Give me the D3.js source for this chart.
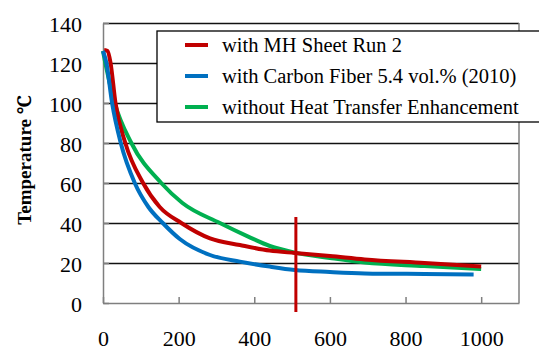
<!DOCTYPE html>
<html>
<head>
<meta charset="utf-8">
<script src="https://cdn.jsdelivr.net/npm/d3@7"></script>
</head>
<body style="margin:0">
<script>
//Data: [time, temperature]
var seriesNames = ["with MH Sheet Run 2", "with Carbon Fiber 5.4 vol.% (2010)", "without Heat Transfer Enhancement"];
var seriesColors = ["#c00000", "#0070c0", "#00b050"];

var redRun = [[3,126.5],[12,126],[20,120],[33,100],[59,80],[106,60],[150,48],[207,40],[283,32.3],[362,29],[441,26.2],[507,25],[600,23.5],[692,21.8],[850,20],[1000,18.2]];
var blueRun = [[0,126],[9,120],[24,100],[47,80],[84,60],[120,48],[158,40],[203,32],[283,24],[362,20.7],[441,18.2],[507,16.5],[600,15.5],[692,14.8],[850,14.5],[980,14.3]];
var greenRun = [[0,126],[6,120],[31,100],[75,80],[154,60],[210,50],[309,40],[384,33.2],[441,28.5],[507,25.2],[600,22.5],[692,20.2],[850,18.5],[1000,17]];
var allRuns = [redRun, blueRun, greenRun];

//Marker line at t = 510
var markerT = 510;
var markerRange = [-4.5, 43];

var xTicks = [0, 200, 400, 600, 800, 1000];
var yTicks = [0, 20, 40, 60, 80, 100, 120, 140];

var serif = "Tinos, 'Times New Roman', Times, 'Noto Serif', serif";

//SVG setup
var margin = { top: 23, right: 20, bottom: 47, left: 103 };
var width = 539 - margin.left - margin.right;
var height = 350 - margin.top - margin.bottom;

var root = d3.select("body")
	.append("svg")
	.attr("width", 539)
	.attr("height", 350)
	.style("font-family", serif);

var svg = root.append("g")
	.attr("transform", "translate(" + margin.left + "," + margin.top + ")");

//Scales
var x = d3.scaleLinear().domain([0, 1100]).range([0, width]);
var y = d3.scaleLinear().domain([0, 140]).range([height, 0]);

//Gridlines
var grid = svg.append("g")
	.call(d3.axisLeft(y).tickValues(yTicks.slice(1)).tickSize(-width).tickFormat(""));
grid.select(".domain").remove();
grid.selectAll("line").attr("stroke", "#111").attr("stroke-width", 1.3);

//Plot frame (right side)
svg.append("line")
	.attr("x1", width).attr("x2", width)
	.attr("y1", 0).attr("y2", height)
	.attr("stroke", "#7f7f7f")
	.attr("stroke-width", 1.5);

//Y axis
var yAxis = svg.append("g")
	.call(d3.axisLeft(y).tickValues(yTicks).tickSizeOuter(0).tickSizeInner(-6).tickPadding(21));
yAxis.selectAll("text").attr("dy", "0.38em");

//X axis
var xAxis = svg.append("g")
	.attr("transform", "translate(0," + height + ")")
	.call(d3.axisBottom(x).tickValues(xTicks).tickFormat(d3.format("d")).tickSizeOuter(0).tickSizeInner(-6).tickPadding(27));

[xAxis, yAxis].forEach(function(ax) {
	ax.attr("font-family", null).attr("font-size", null);
	ax.selectAll("path, line").attr("stroke", "#7f7f7f").attr("stroke-width", 1.5);
	ax.selectAll("text").attr("font-size", "22px").attr("fill", "#000");
});

//Axis label
svg.append("text")
	.attr("transform", "rotate(-90)")
	.attr("x", -(160 - margin.top))
	.attr("y", 24 - margin.left)
	.attr("dy", "0.35em")
	.attr("text-anchor", "middle")
	.attr("font-weight", "bold")
	.attr("font-size", "19px")
	.text("Temperature ℃");

//Lines
var line = d3.line()
	.x(function(d) { return x(d[0]); })
	.y(function(d) { return y(d[1]); })
	.curve(d3.curveMonotoneX);

//draw green first, then red, blue on top
[2, 0, 1].forEach(function(i) {
	svg.append("path")
		.datum(allRuns[i])
		.attr("fill", "none")
		.attr("stroke", seriesColors[i])
		.attr("stroke-width", 4)
		.attr("stroke-linejoin", "round")
		.attr("d", line);
});

//Marker
svg.append("line")
	.attr("x1", x(markerT)).attr("x2", x(markerT))
	.attr("y1", y(markerRange[0])).attr("y2", y(markerRange[1]))
	.attr("stroke", "#c00000")
	.attr("stroke-width", 3);

//Legend
var legend = svg.append("g")
	.attr("transform", "translate(" + (157 - margin.left) + "," + (31 - margin.top) + ")");

legend.append("rect")
	.attr("width", 400)
	.attr("height", 91)
	.attr("fill", "#fff")
	.attr("stroke", "#000")
	.attr("stroke-width", 1.3);

var items = legend.selectAll(".item")
	.data(seriesNames)
	.enter()
	.append("g")
	.attr("class", "item")
	.attr("transform", function(d, i) { return "translate(0," + (14 + i * 31) + ")"; });

items.append("line")
	.attr("x1", 28).attr("x2", 51)
	.attr("stroke", function(d, i) { return seriesColors[i]; })
	.attr("stroke-width", 4);

items.append("text")
	.attr("x", 65)
	.attr("dy", "0.35em")
	.attr("font-size", "20.5px")
	.text(function(d) { return d; });

//serif on every text
root.selectAll("text").style("font-family", serif);
</script>
</body>
</html>
